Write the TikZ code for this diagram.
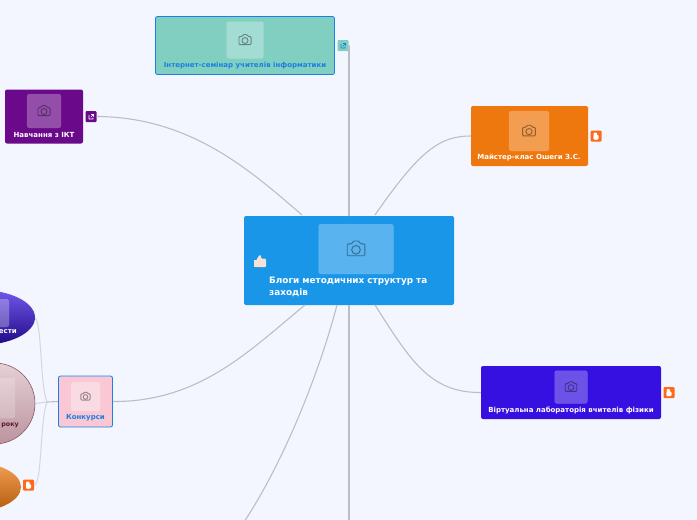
\documentclass[tikz,border=0pt]{standalone}
\usepackage{fontspec}
\setmainfont{DejaVu Sans}
\usepackage{tikz}
\usetikzlibrary{shapes.geometric}

\definecolor{pagebg}{HTML}{F4F6FF}
\definecolor{rootblue}{HTML}{1A96E9}
\definecolor{tealbox}{HTML}{80CFC1}
\definecolor{linkblue}{HTML}{1A7FE6}
\definecolor{purplebox}{HTML}{6A0A8A}
\definecolor{orangebox}{HTML}{EF780E}
\definecolor{indigobox}{HTML}{3610E0}
\definecolor{pinkbox}{HTML}{FAC8D4}
\definecolor{pinktop}{HTML}{E6D0D6}
\definecolor{pinkbottom}{HTML}{BC949E}
\definecolor{pinkedge}{HTML}{8A5464}
\definecolor{pinktext}{HTML}{5A1A30}
\definecolor{bloggeror}{HTML}{FF6A1A}
\definecolor{edgegrey}{HTML}{BCBEC6}
\definecolor{edgelight}{HTML}{D4D5DE}
\definecolor{skintone}{HTML}{F6E2D6}

\begin{document}
\begin{tikzpicture}[
    x=1pt, y=-1pt,
    topic/.style={rectangle, rounded corners=2pt, inner sep=0pt},
    thumb/.style={rectangle, rounded corners=2.5pt, fill=white, fill opacity=0.28, draw=white, draw opacity=0.12, inner sep=0pt},
    label/.style={font=\bfseries\fontsize{7}{8.5}\selectfont, text=white, inner sep=0pt},
    badge/.style={rectangle, rounded corners=1pt, minimum size=11pt, inner sep=0pt},
    link/.style={draw=edgegrey, line width=1.1pt},
    trunk/.style={draw=edgegrey, line width=1.6pt},
    sublink/.style={draw=edgelight, line width=1pt},
    camera/.pic={
        \draw[line width=0.9pt, rounded corners=1pt, draw=black, draw opacity=0.4, pic actions]
            (-5.5,-3.2) -- (-2.6,-3.2) -- (-1.6,-5) -- (1.8,-5) -- (2.8,-3.2) -- (5.5,-3.2)
            -- (5.5,4.2) -- (-5.5,4.2) -- cycle;
        \draw[line width=0.9pt, draw=black, draw opacity=0.4, pic actions] (0,0.5) circle (2.7);
    }
]

\clip (0,0) rectangle (697,520);
\fill[pagebg] (0,0) rectangle (697,520);

% off-page ends
\coordinate (offleft) at (244,522);
\coordinate (offdown) at (349,522);

% central topic
\node[topic, fill=rootblue, minimum width=210pt, minimum height=89pt] (root) at (349,260.5) {};
\node[thumb, minimum width=75pt, minimum height=50pt] (rootthumb) at (356,249) {};
\pic[scale=1.6, draw opacity=0.6] at (rootthumb) {camera};
\node[label, font=\bfseries\fontsize{8.85}{11.5}\selectfont, anchor=west, align=left] (roottext) at (269,287) {Блоги методичних структур та\\заходів};

% thumbs-up mark
\node[inner sep=0pt] (thumbsup) at (260,261) {};
\fill[skintone] (254,259.5) rectangle (257,266.5);
\fill[skintone, rounded corners=1pt] (256.5,259.5) -- (259.5,255) -- (261,255) -- (261,258.5) -- (266,258.5) -- (266,267) -- (256.5,267) -- cycle;

% top topic
\node[topic, fill=tealbox, draw=linkblue, line width=0.8pt, minimum width=179pt, minimum height=58pt] (seminar) at (245,45.5) {};
\node[thumb, minimum width=37pt, minimum height=37pt] (seminarthumb) at (245,40) {};
\pic[scale=1.1] at (seminarthumb) {camera};
\node[label, text=linkblue] (seminartext) at (245,66) {Інтернет-семінар учителів інформатики};
\node[badge, fill=tealbox] (seminaricon) at (343,45.5) {};
\draw[linkblue, line width=0.6pt] (341,44) -- (341,48) -- (345,48) -- (345,46.5) (343,43.5) -- (345.5,43.5) -- (345.5,45.5) (345.5,43.5) -- (342.8,46.2);

% left topic
\node[topic, fill=purplebox, minimum width=78pt, minimum height=54pt] (ikt) at (44,116.5) {};
\node[thumb, minimum width=34pt, minimum height=34pt] (iktthumb) at (44,111) {};
\pic[scale=1.1] at (iktthumb) {camera};
\node[label] (ikttext) at (44,134.5) {Навчання з ІКТ};
\node[badge, fill=purplebox] (ikticon) at (91,116.5) {};
\draw[white, line width=0.6pt] (89,115) -- (89,119) -- (93,119) -- (93,117.5) (91,114.5) -- (93.5,114.5) -- (93.5,116.5) (93.5,114.5) -- (90.8,117.2);

% right upper topic
\node[topic, fill=orangebox, minimum width=117pt, minimum height=60pt] (master) at (529.5,136) {};
\node[thumb, minimum width=40pt, minimum height=40pt] (masterthumb) at (529,131) {};
\pic[scale=1.15] at (masterthumb) {camera};
\node[label] (mastertext) at (529,158) {Майстер-клас Ошеги З.С.};
\node[badge, fill=bloggeror] (mastericon) at (596,136) {};
\fill[white, rounded corners=1pt] (593.5,132.5) rectangle (597,139.5);
\fill[white, rounded corners=1pt] (593.5,135) rectangle (598.5,139.5);

% right lower topic
\node[topic, fill=indigobox, minimum width=180pt, minimum height=53pt] (physics) at (571,392.5) {};
\node[thumb, minimum width=33pt, minimum height=33pt] (physicsthumb) at (571,387) {};
\pic[scale=1.05] at (physicsthumb) {camera};
\node[label] (physicstext) at (571,410) {Віртуальна лабораторія вчителів фізики};
\node[badge, fill=bloggeror] (physicsicon) at (669,392.5) {};
\fill[white, rounded corners=1pt] (666.5,389) rectangle (670,396);
\fill[white, rounded corners=1pt] (666.5,391.5) rectangle (671.5,396);

% contests topic
\node[topic, fill=pinkbox, draw=linkblue, line width=0.8pt, minimum width=54pt, minimum height=51pt] (contest) at (85.5,401.5) {};
\node[thumb, fill opacity=0.35, minimum width=29pt, minimum height=29pt] (contestthumb) at (85.5,396.5) {};
\pic[scale=0.85] at (contestthumb) {camera};
\node[label, text=linkblue] (contesttext) at (85.5,418) {Конкурси};

% contest children, cut by the page edge
\node[ellipse, minimum width=110pt, minimum height=55pt, inner sep=0pt, top color=indigobox!70!white, middle color=indigobox, bottom color=indigobox!60!black] (child1) at (-20,317.5) {};
\node[thumb, minimum width=28pt, minimum height=28pt] (child1thumb) at (-5,313) {};
\node[label, anchor=east] (child1text) at (17,331.5) {ести};

\node[circle, draw=pinkedge, line width=0.6pt, minimum size=81pt, inner sep=0pt, top color=pinktop, bottom color=pinkbottom] (child2) at (-5.5,403.5) {};
\node[thumb, fill opacity=0.2, minimum width=30pt, minimum height=40pt] (child2thumb) at (0,398) {};
\node[label, font=\bfseries\fontsize{6.4}{8}\selectfont, text=pinktext, anchor=east] (child2text) at (19,425.5) {року};

\node[ellipse, minimum width=100pt, minimum height=50pt, inner sep=0pt, top color=orangebox!70!white, bottom color=orangebox!75!black] (child3) at (-29,487) {};
\node[badge, fill=bloggeror] (child3icon) at (28.5,485) {};
\fill[white, rounded corners=1pt] (26,481.5) rectangle (29.5,488.5);
\fill[white, rounded corners=1pt] (26,484) rectangle (31,488.5);

% Edges from the central topic
\draw[trunk] (seminaricon.east) -- (349,46) -- (349,216);
\draw[link] (ikticon.east) .. controls (190,117) and (250,170) .. (302,215);
\draw[link] (master.west) .. controls (440,136) and (420,150) .. (375,215);
\draw[link] (physics.west) .. controls (430,393) and (410,360) .. (375,305);
\draw[link] (contest.east) .. controls (200,402) and (250,350) .. (305,305);
\draw[link] (offleft) .. controls (285,460) and (320,370) .. (337,305);
\draw[trunk] (offdown) -- (349,305);

% Edges from the contests topic
\coordinate (fork) at (47,402);
\draw[link] (contest.west) -- (fork);
\draw[sublink] (fork) .. controls (40,385) and (42,325) .. (child1.east);
\draw[sublink] (fork) -- (child2.east);
\draw[sublink] (fork) .. controls (40,420) and (42,485) .. (child3icon.east);

\end{tikzpicture}
\end{document}
